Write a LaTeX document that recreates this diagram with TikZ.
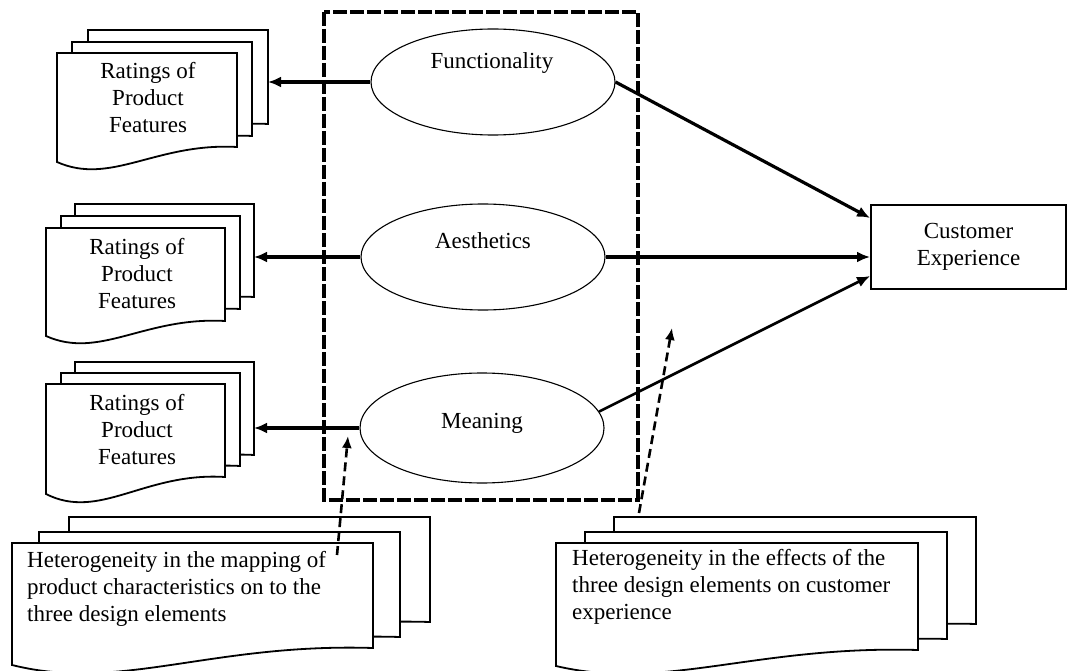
\documentclass[tikz,border=0pt]{standalone}
\usepackage{fontspec}
\setmainfont{Liberation Serif}
\usetikzlibrary{arrows.meta,shapes.geometric}

% one sheet of a document stack: left, top, width, height of left side, dip
\newcommand{\docpage}[5]{%
  \draw[page] ({#1},{#2}) -- ({#1+#3},{#2}) -- ({#1+#3},{#2+#4-#5})
    .. controls ({#1+0.55*#3},{#2+#4-1.3*#5}) and ({#1+0.3*#3},{#2+#4+1.6*#5})
    .. ({#1},{#2+#4}) -- cycle;}

\tikzset{
  page/.style={draw, fill=white, line width=1.8pt},
  oval/.style={draw, ellipse, line width=1.1pt, minimum width=244pt,
    minimum height=106pt, inner sep=0pt},
  frame/.style={line width=3.2pt, dash pattern=on 14pt off 3pt},
  conn/.style={line width=3.2pt, -{Latex[length=13pt,width=11pt]}},
  hint/.style={line width=2.6pt, dash pattern=on 9pt off 5pt,
    -{Latex[length=12pt,width=10pt]}},
  rate/.style={align=center, inner sep=0pt},
  note/.style={align=left, inner sep=0pt, anchor=north west}
}

\begin{document}
\begin{tikzpicture}[x=1pt, y=-1pt, font=\fontsize{23}{27}\selectfont]
  \useasboundingbox (0,0) rectangle (1068,671);

  % stacks of ratings
  \foreach \dx/\dy in {31/-23,15/-11,0/0}{\docpage{57+\dx}{53+\dy}{180}{109}{15}}
  \foreach \dx/\dy in {29/-24,15/-12,0/0}{\docpage{46+\dx}{228+\dy}{179}{108}{15}}
  \foreach \dx/\dy in {29/-22,15/-11,0/0}{\docpage{46+\dx}{384+\dy}{179}{110}{17}}
  \node[rate] (rateA) at (148,98) {Ratings of\\Product\\Features};
  \node[rate] (rateB) at (137,274) {Ratings of\\Product\\Features};
  \node[rate] (rateC) at (137,430) {Ratings of\\Product\\Features};
  \coordinate (rateA-e) at (268,82);
  \coordinate (rateB-e) at (254,257);
  \coordinate (rateC-e) at (254,428);

  % stacks of notes
  \foreach \dx/\dy in {57/-26,27/-11,0/0}{\docpage{12+\dx}{543+\dy}{361}{122}{17}}
  \foreach \dx/\dy in {58/-26,29/-11,0/0}{\docpage{556+\dx}{543+\dy}{362}{123}{16}}
  \node[note] (hetMap) at (27,551)
    {Heterogeneity in the mapping of\\product characteristics on to the\\three design elements};
  \node[note] (hetEff) at (572,549)
    {Heterogeneity in the effects of the\\three design elements on customer\\experience};

  % design elements
  \draw[frame] (324,12) rectangle (638,500);
  \node[oval] (func) at (493,82) {};
  \node[inner sep=0pt] (funcT) at (492,63) {Functionality};
  \node[oval] (aesth) at (483,257) {};
  \node[inner sep=0pt] (aesthT) at (483,241) {Aesthetics};
  \node[oval, minimum height=110pt] (mean) at (482,428) {};
  \node[inner sep=0pt] (meanT) at (482,423) {Meaning};

  \node[draw, line width=1.8pt, minimum width=195pt, minimum height=84pt,
    align=center] (cx) at (968.5,247) {Customer\\Experience};

  % connectors
  \draw[conn, line width=4.6pt] (func.west) -- (rateA-e);
  \draw[conn] (aesth.west) -- (rateB-e);
  \draw[conn] (mean.west) -- (rateC-e);
  \draw[conn] (func.east) -- ([yshift=29pt]cx.west);
  \draw[conn] (aesth.east) -- (aesth.east -| cx.west);
  \draw[conn, line width=2.6pt] (mean.8) -- ([yshift=-29pt]cx.west);

  \coordinate (mapFrom) at (337,555);
  \coordinate (mapTo) at (348,436);
  \coordinate (effFrom) at (639,513);
  \coordinate (effTo) at (672,328);
  \draw[hint] (mapFrom) -- (mapTo);
  \draw[hint] (effFrom) -- (effTo);
\end{tikzpicture}
\end{document}
